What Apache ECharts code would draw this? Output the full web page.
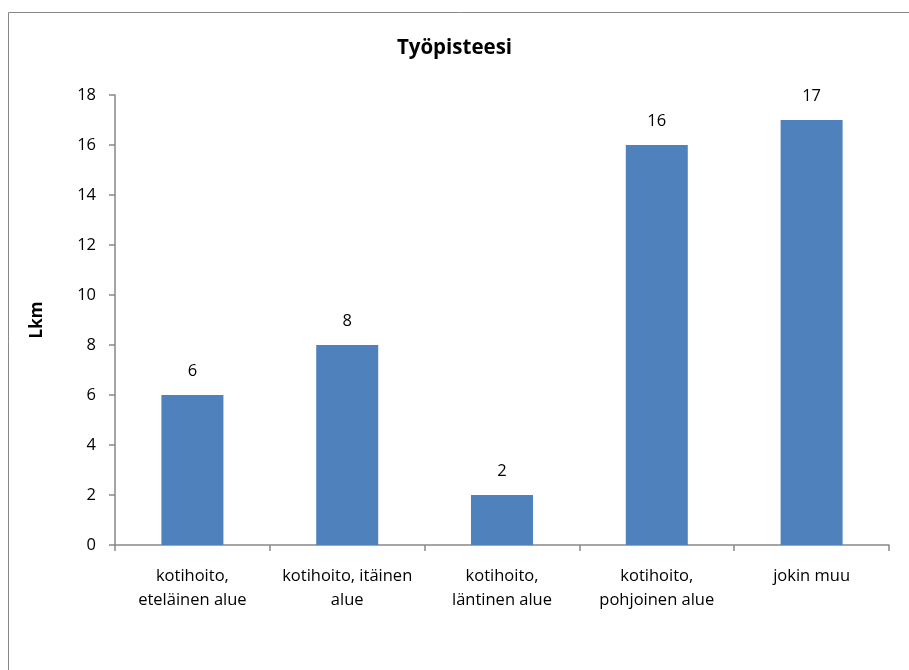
<!DOCTYPE html>
<html>
<head>
<meta charset="utf-8">
<script src="https://cdn.jsdelivr.net/npm/echarts@6/dist/echarts.min.js"></script>
<style>html,body{margin:0;padding:0;background:#fff}#c{width:909px;height:670px}</style>
</head>
<body>
<div id="c"></div>
<script>
const titleText = 'Työpisteesi';
const yAxisName = 'Lkm';
const categories = ['kotihoito,\neteläinen alue', 'kotihoito, itäinen\nalue', 'kotihoito,\nläntinen alue', 'kotihoito,\npohjoinen alue', 'jokin muu'];
const values = [6, 8, 2, 16, 17];
const yMin = 0, yMax = 18, yStep = 2;

const FONT = "'Open Sans', 'Liberation Sans', sans-serif";
const chart = echarts.init(document.getElementById('c'), null, {renderer: 'canvas'});
chart.setOption({
  animation: false,
  backgroundColor: '#fff',
  graphic: [{
    type: 'rect', left: 6, top: 10, z: -1,
    shape: {width: 960, height: 720},
    style: {fill: 'none', stroke: '#888', lineWidth: 1}
  }],
  title: {
    text: titleText, left: 'center', top: 33,
    textStyle: {fontFamily: FONT, fontWeight: 'bold', fontSize: 20.5, color: '#000'}
  },
  grid: {left: 115, right: 20, top: 95, bottom: 125, containLabel: false},
  xAxis: {
    type: 'category', data: categories,
    axisLine: {lineStyle: {color: '#888', width: 1.5}},
    axisTick: {show: true, alignWithLabel: false, length: 6, lineStyle: {color: '#888', width: 1.5}},
    axisLabel: {fontFamily: FONT, fontSize: 16.5, color: '#000', lineHeight: 24, margin: 19, interval: 0}
  },
  yAxis: {
    type: 'value', min: yMin, max: yMax, interval: yStep,
    name: yAxisName, nameLocation: 'middle', nameGap: 69, nameRotate: 90,
    nameTextStyle: {fontFamily: FONT, fontWeight: 'bold', fontSize: 17, color: '#000'},
    axisLine: {show: true, lineStyle: {color: '#888', width: 1.5}},
    axisTick: {show: true, length: 6, lineStyle: {color: '#888', width: 1.5}},
    splitLine: {show: false},
    axisLabel: {fontFamily: FONT, fontSize: 16.5, color: '#000', margin: 19}
  },
  series: [{
    type: 'bar', data: values, barWidth: 62,
    itemStyle: {color: '#4F81BD'},
    label: {show: true, position: 'top', distance: 15, fontFamily: FONT, fontSize: 16.5, color: '#000'}
  }]
});
</script>
</body>
</html>
